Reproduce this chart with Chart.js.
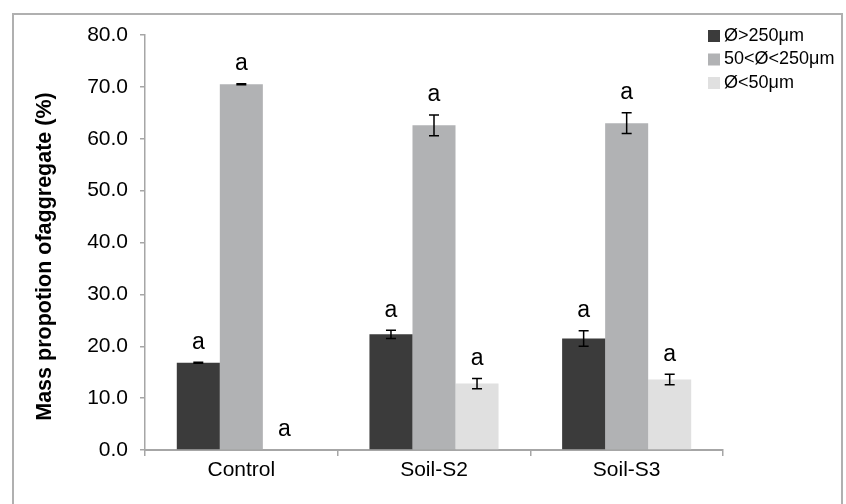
<!DOCTYPE html>
<html>
<head>
<meta charset="utf-8">
<title>Mass proportion of aggregate</title>
<script src="https://cdn.jsdelivr.net/npm/chart.js@4/dist/chart.umd.min.js"></script>
<style>
  html, body { margin: 0; padding: 0; background: #fff; }
  #wrap { width: 846px; height: 504px; }
</style>
</head>
<body>
<div id="wrap"><canvas id="c" width="846" height="504"></canvas></div>
<script>
// Treatments on the x axis
const categories = ['Control', 'Soil-S2', 'Soil-S3'];

// Aggregate size classes
const seriesNames = ['Ø>250μm', '50<Ø<250μm', 'Ø<50μm'];
const seriesColors = ['#3b3b3b', '#b1b2b4', '#e0e0e0'];

// Mean mass proportion (%) per size class
const coarse = [16.8, 22.3, 21.5];
const medium = [70.5, 62.6, 63.0];
const fine   = [0.0, 12.8, 13.6];

// Standard errors
const coarseErr = [0.1, 0.8, 1.5];
const mediumErr = [0.1, 2.0, 2.0];
const fineErr   = [0.0, 1.0, 1.0];

// Significance letters
const coarseSig = ['a', 'a', 'a'];
const mediumSig = ['a', 'a', 'a'];
const fineSig   = ['a', 'a', 'a'];

// Y axis ticks and title
const yTicks = [0, 10, 20, 30, 40, 50, 60, 70, 80];
const yTitle = 'Mass propotion ofaggregate (%)';

const FONT = '"Liberation Sans", Arial, Helvetica, sans-serif';
const AXIS_GREY = '#a6a6a6';

const errors = [coarseErr, mediumErr, fineErr];
const letters = [coarseSig, mediumSig, fineSig];

// Frame around the whole figure
const framePlugin = {
  id: 'frame',
  beforeDraw(chart) {
    const ctx = chart.ctx;
    ctx.save();
    ctx.fillStyle = '#ffffff';
    ctx.fillRect(0, 0, chart.width, chart.height);
    ctx.strokeStyle = '#b0b0b0';
    ctx.lineWidth = 2;
    ctx.strokeRect(13, 14, 829, 520);
    ctx.restore();
  }
};

// Rotated y axis title, centred a little below the plot's middle
const yTitlePlugin = {
  id: 'yTitle',
  afterDraw(chart) {
    const ctx = chart.ctx;
    const area = chart.chartArea;
    ctx.save();
    ctx.translate(45, (area.top + area.bottom) / 2 + 14);
    ctx.rotate(-Math.PI / 2);
    ctx.font = 'bold 21.5px ' + FONT;
    ctx.fillStyle = '#000';
    ctx.textAlign = 'center';
    ctx.textBaseline = 'middle';
    ctx.fillText(yTitle, 0, 0);
    ctx.restore();
  }
};

// Error bars and significance letters above each bar
const errorBarPlugin = {
  id: 'errorBars',
  afterDatasetsDraw(chart) {
    const ctx = chart.ctx;
    const y = chart.scales.y;
    ctx.save();
    chart.data.datasets.forEach((ds, i) => {
      const meta = chart.getDatasetMeta(i);
      meta.data.forEach((bar, j) => {
        const v = ds.data[j];
        const e = errors[i][j];
        const x = bar.x;
        let top = y.getPixelForValue(v);
        if (e > 0) {
          const yHi = y.getPixelForValue(v + e);
          const yLo = y.getPixelForValue(v - e);
          ctx.strokeStyle = '#000';
          ctx.lineWidth = 1.5;
          ctx.beginPath();
          ctx.moveTo(x, yHi); ctx.lineTo(x, yLo);
          ctx.moveTo(x - 5, yHi); ctx.lineTo(x + 5, yHi);
          ctx.moveTo(x - 5, yLo); ctx.lineTo(x + 5, yLo);
          ctx.stroke();
          top = yHi;
        }
        ctx.fillStyle = '#000';
        ctx.font = '23px ' + FONT;
        ctx.textAlign = 'center';
        ctx.textBaseline = 'middle';
        ctx.fillText(letters[i][j], x, top - 20);
      });
    });
    ctx.restore();
  }
};

// Legend in the upper right corner
const legendPlugin = {
  id: 'cornerLegend',
  afterDraw(chart) {
    const ctx = chart.ctx;
    ctx.save();
    ctx.font = '18px ' + FONT;
    ctx.textAlign = 'left';
    ctx.textBaseline = 'middle';
    chart.data.datasets.forEach((ds, i) => {
      const cy = 36 + i * 23.5;
      ctx.fillStyle = ds.backgroundColor;
      ctx.fillRect(708, cy - 6, 12, 12);
      ctx.fillStyle = '#000';
      ctx.fillText(ds.label, 724, cy);
    });
    ctx.restore();
  }
};

const seriesValues = [coarse, medium, fine];

new Chart(document.getElementById('c'), {
  type: 'bar',
  data: {
    labels: categories,
    datasets: seriesValues.map((vals, i) => ({
      label: seriesNames[i],
      data: vals,
      backgroundColor: seriesColors[i],
      borderWidth: 0,
      categoryPercentage: 0.67,
      barPercentage: 1.0
    }))
  },
  options: {
    responsive: false,
    animation: false,
    layout: { padding: { top: 35, right: 123, bottom: 0, left: 0 } },
    plugins: {
      legend: { display: false },
      tooltip: { enabled: false }
    },
    scales: {
      x: {
        offset: true,
        grid: { display: true, drawOnChartArea: false, offset: true, tickLength: 6, color: AXIS_GREY, lineWidth: 1.5 },
        border: { display: true, color: AXIS_GREY, width: 2 },
        ticks: { color: '#000', font: { family: FONT, size: 21 }, padding: 2 },
        afterFit(scale) { scale.height = 54; }
      },
      y: {
        min: 0,
        max: 80,
        afterBuildTicks(scale) { scale.ticks = yTicks.map(v => ({ value: v })); },
        grid: { display: true, drawOnChartArea: false, tickLength: 5, color: AXIS_GREY, lineWidth: 1.5 },
        border: { display: true, color: AXIS_GREY, width: 1.5 },
        ticks: {
          color: '#000',
          font: { family: FONT, size: 21 },
          padding: 12,
          callback: v => Number(v).toFixed(1)
        },
        afterFit(scale) { scale.width = 145; }
      }
    }
  },
  plugins: [framePlugin, errorBarPlugin, legendPlugin, yTitlePlugin]
});
</script>
</body>
</html>
